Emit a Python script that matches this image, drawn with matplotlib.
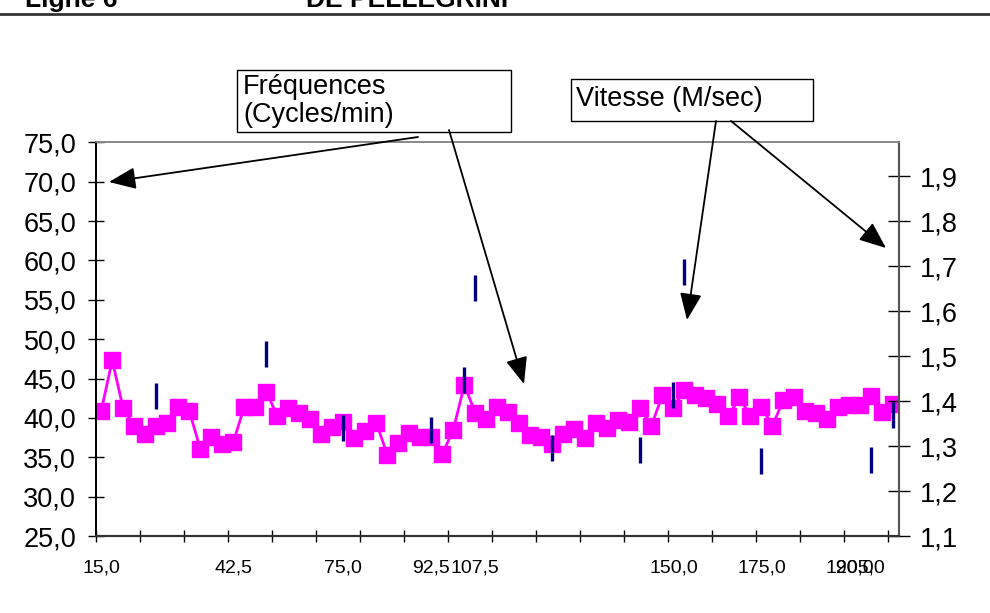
import numpy as np
import matplotlib
matplotlib.use('Agg')
import matplotlib.pyplot as plt
from matplotlib.patches import Rectangle, FancyArrowPatch
from matplotlib.lines import Line2D
from matplotlib.ticker import FuncFormatter

plt.rcParams['font.family'] = ['Liberation Sans', 'DejaVu Sans']

W, H = 990, 613

# frequences (cycles/min), one value per category
freq = [40.9, 47.3, 41.2, 39.0, 38.0, 39.0, 39.4, 41.4, 40.9, 36.1, 37.6, 36.7, 36.9,
        41.4, 41.4, 43.3, 40.3, 41.2, 40.6, 39.8, 38.0, 38.9, 39.5, 37.4, 38.3, 39.4,
        35.3, 36.8, 38.1, 37.6, 37.6, 35.4, 38.5, 44.2, 40.6, 39.8, 41.4, 40.8, 39.4,
        37.8, 37.6, 36.7, 38.0, 38.6, 37.4, 39.3, 38.7, 39.7, 39.5, 41.2, 39.0, 42.9,
        41.3, 43.6, 42.9, 42.5, 41.8, 40.2, 42.6, 40.2, 41.4, 39.0, 42.3, 42.6, 40.9,
        40.6, 39.8, 41.4, 41.6, 41.6, 42.8, 40.7, 41.8]

# vitesse (M/sec), only measured at some categories
speed_idx = [5, 15, 22, 30, 33, 34, 41, 49, 52, 53, 60, 70, 72]
speed_val = [1.411, 1.504, 1.341, 1.336, 1.447, 1.651, 1.295, 1.291, 1.413, 1.686,
             1.267, 1.270, 1.369]

# category labels shown on the x axis (the others are blank)
x_lbl_idx = [0, 12, 22, 30, 34, 52, 60, 68, 69]
x_lbl = ['15,0', '42,5', '75,0', '92,5', '107,5', '150,0', '175,0', '190,0', '205,0']


def px(x, y):
    # pixel (from top-left) -> figure fraction
    return x / W, 1 - y / H


def comma(fmt):
    return FuncFormatter(lambda v, p: format(v, fmt).replace('.', ','))


fig = plt.figure(figsize=(W / 100, H / 100), dpi=100)
fig.patch.set_facecolor('white')

x0, y0 = px(95.7, 536)
x1, y1 = px(899, 142.3)
ax = fig.add_axes([x0, y0, x1 - x0, y1 - y0])

cats = np.arange(len(freq))
ax.plot(cats, freq, color='#FF00FF', lw=2, marker='s', ms=11,
        mfc='#FF00FF', mec='#FF00FF', zorder=3)
ax.set_xlim(-0.5, len(freq) - 0.5)
ax.set_ylim(25, 75)
ax.set_yticks(np.arange(25, 76, 5))
ax.yaxis.set_major_formatter(comma('.1f'))
ax.set_xticks(np.arange(-0.5, len(freq) - 1, 4))
ax.set_xticks(x_lbl_idx, x_lbl, minor=True)
ax.tick_params(axis='x', which='major', direction='inout', length=9, width=1,
               labelbottom=False)
ax.tick_params(axis='x', which='minor', length=0, pad=17, labelsize=14)
ax.tick_params(axis='y', direction='inout', length=12, width=1, labelsize=19.5, pad=8)

ax2 = ax.twinx()
ax2.plot(speed_idx, speed_val, ls='none', marker='|', ms=19, mew=2.4, color='#000080')
ax2.set_ylim(1.1, 1.975)
ax2.set_yticks(np.arange(1.1, 1.95, 0.1))
ax2.yaxis.set_major_formatter(comma('.1f'))
ax2.tick_params(axis='y', direction='inout', length=16, width=1, labelsize=19.5, pad=7)

for a in (ax, ax2):
    a.spines['left'].set_color('black')
    a.spines['left'].set_linewidth(1.3)
    a.spines['bottom'].set_color('#333333')
    a.spines['bottom'].set_linewidth(1.5)
    a.spines['right'].set_color('#555555')
    a.spines['right'].set_linewidth(1.5)
    a.spines['top'].set_color('#888888')
    a.spines['top'].set_linewidth(1.2)

# header, cut at the top of the page
fig.text(*px(25, 7), 'Ligne 6', fontsize=19, fontweight='bold', va='baseline')
fig.text(*px(306, 7), 'DE PELLEGRINI', fontsize=19, fontweight='bold', va='baseline')
fig.add_artist(Line2D([0, 1], [1 - 14 / H] * 2, transform=fig.transFigure,
                      color='#333333', lw=2))

# text boxes
boxes = [((237, 70, 274, 62), 'Fréquences\n(Cycles/min)', (243, 101)),
         ((571, 79, 242, 42), 'Vitesse (M/sec)', (576, 99))]
for (bx, by, bw, bh), txt, (tx, ty) in boxes:
    fx, fy = px(bx, by + bh)
    fig.add_artist(Rectangle((fx, fy), bw / W, bh / H, transform=fig.transFigure,
                             fill=True, fc='white', ec='black', lw=1))
    fig.text(*px(tx, ty), txt, fontsize=19.5, va='center', ha='left',
             linespacing=1.05)

# arrows
arrows = [((418, 137), (109, 182)), ((449, 130), (524, 384)),
          ((716, 121), (687, 320)), ((731, 121), (886, 248))]
for a, b in arrows:
    fig.add_artist(FancyArrowPatch(px(*a), px(*b), transform=fig.transFigure,
                                   arrowstyle='-|>,head_length=1.1,head_width=0.45',
                                   mutation_scale=15, color='black', lw=1.3,
                                   shrinkA=0, shrinkB=0))

fig.savefig('out.png', dpi=100)
